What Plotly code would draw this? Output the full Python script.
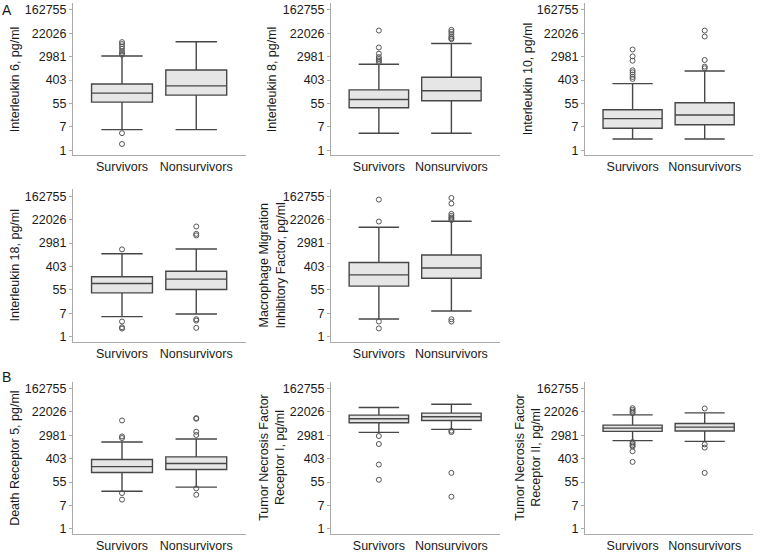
import math
import plotly.graph_objects as go

groups = ["Survivors", "Nonsurvivors"]
tick_vals = [1, 7.389, 54.598, 403.429, 2980.958, 22026.466, 162754.791]
tick_text = ["1", "7", "55", "403", "2981", "22026", "162755"]

titles = [
    "Interleukin 6, pg/ml",
    "Interleukin 8, pg/ml",
    "Interleukin 10, pg/ml",
    "Interleukin 18, pg/ml",
    "Macrophage Migration<br>Inhibitory Factor, pg/ml",
    "Death Receptor 5, pg/ml",
    "Tumor Necrosis Factor<br>Receptor I, pg/ml",
    "Tumor Necrosis Factor<br>Receptor II, pg/ml",
]

# Box statistics per panel: [Survivors, Nonsurvivors]
il6_q1 = [61, 111]
il6_med = [132, 245]
il6_q3 = [290, 963]
il6_lo = [5.8, 5.8]
il6_hi = [3165, 10720]
il6_out_s = [4.3, 1.7, 10400, 8780, 7180, 5880, 4675, 4060, 3530]
il6_out_n = []

il8_q1 = [37.7, 68.7]
il8_med = [77, 161]
il8_q3 = [174, 513]
il8_lo = [4.26, 4.26]
il8_hi = [1556, 9230]
il8_out_s = [28000, 6568, 3866, 2893, 2440, 2121, 1845]
il8_out_n = [29700, 25000, 20500, 16800, 14600, 13360]

il10_q1 = [6.5, 8.85]
il10_med = [14.9, 20.3]
il10_q3 = [31.8, 58]
il10_lo = [2.6, 2.6]
il10_hi = [299, 880]
il10_out_s = [5540, 3070, 2120, 934, 788, 645, 528, 446]
il10_out_n = [28000, 16800, 2250, 1275, 1108]

il18_q1 = [42, 56]
il18_med = [94, 136]
il18_q3 = [166, 268]
il18_lo = [5.5, 6.9]
il18_hi = [1200, 1790]
il18_out_s = [1737, 3.6, 2.2, 1.97]
il18_out_n = [12300, 6570, 5720, 4.4, 3.9, 2.1]

mif_q1 = [74.4, 147]
mif_med = [196, 354]
mif_q3 = [561, 1075]
mif_lo = [4.5, 8.85]
mif_hi = [11600, 19300]
mif_out_s = [123000, 18800, 3.6, 2.0]
mif_out_n = [141700, 87700, 36300, 30600, 26400, 23600, 21200, 4.4, 3.6]

dr5_q1 = [124, 161]
dr5_med = [206, 268]
dr5_q3 = [376, 473]
dr5_lo = [24.8, 35.5]
dr5_hi = [1686, 2190]
dr5_out_s = [10700, 2725, 2370, 21.3, 12.2]
dr5_out_n = [13100, 12300, 4060, 3070, 31.8, 18.5]

tnfr1_q1 = [8780, 10700]
tnfr1_med = [12300, 14600]
tnfr1_q3 = [16800, 19930]
tnfr1_lo = [3866, 4960]
tnfr1_hi = [32200, 43000]
tnfr1_out_s = [2810, 1422, 245, 66.7]
tnfr1_out_n = [4450, 3940, 120, 15.6]

tnfr2_q1 = [4190, 4320]
tnfr2_med = [5540, 6060]
tnfr2_q3 = [7180, 8270]
tnfr2_lo = [1900, 1790]
tnfr2_hi = [17300, 20500]
tnfr2_out_s = [30600, 26400, 22900, 19930, 1686, 1466, 1275, 1141, 765, 308]
tnfr2_out_n = [29700, 1380, 1043, 120]

panels = [
    (il6_q1, il6_med, il6_q3, il6_lo, il6_hi, il6_out_s, il6_out_n),
    (il8_q1, il8_med, il8_q3, il8_lo, il8_hi, il8_out_s, il8_out_n),
    (il10_q1, il10_med, il10_q3, il10_lo, il10_hi, il10_out_s, il10_out_n),
    (il18_q1, il18_med, il18_q3, il18_lo, il18_hi, il18_out_s, il18_out_n),
    (mif_q1, mif_med, mif_q3, mif_lo, mif_hi, mif_out_s, mif_out_n),
    (dr5_q1, dr5_med, dr5_q3, dr5_lo, dr5_hi, dr5_out_s, dr5_out_n),
    (tnfr1_q1, tnfr1_med, tnfr1_q3, tnfr1_lo, tnfr1_hi, tnfr1_out_s, tnfr1_out_n),
    (tnfr2_q1, tnfr2_med, tnfr2_q3, tnfr2_lo, tnfr2_hi, tnfr2_out_s, tnfr2_out_n),
]

# ---- layout geometry (pixels) ----
W, H = 760, 559
cols_px = [(73, 246), (331, 500), (585, 753)]
rows_px = [(3, 156), (190, 343), (383, 536)]
title_x_px = [15, 272, 528]
cells = [(0, 0), (0, 1), (0, 2), (1, 0), (1, 1), (2, 0), (2, 1), (2, 2)]

FONT = "Arial, Liberation Sans, sans-serif"
TXT = "#1a1a1a"
AX = "#aaaaaa"
yr = [math.log10(math.exp(-0.45)), math.log10(math.exp(12.6))]

fig = go.Figure()
layout = dict(
    width=W, height=H,
    margin=dict(l=0, r=0, t=0, b=0),
    paper_bgcolor="white", plot_bgcolor="white",
    showlegend=False,
    font=dict(family=FONT, size=12.5, color=TXT),
)
annotations = []

for i, ((r, c), data) in enumerate(zip(cells, panels)):
    q1, med, q3, lo, hi, out_s, out_n = data
    n = i + 1
    xa = "x" if n == 1 else f"x{n}"
    ya = "y" if n == 1 else f"y{n}"
    fig.add_trace(go.Box(
        x=groups, q1=q1, median=med, q3=q3, lowerfence=lo, upperfence=hi,
        width=0.82, whiskerwidth=0.68, boxpoints=False,
        fillcolor="#e6e6e6", line=dict(color="#474747", width=1.4),
        xaxis=xa, yaxis=ya, hoverinfo="skip",
    ))
    ox = [groups[0]] * len(out_s) + [groups[1]] * len(out_n)
    oy = list(out_s) + list(out_n)
    fig.add_trace(go.Scatter(
        x=ox, y=oy, mode="markers",
        marker=dict(symbol="circle-open", size=5, color="#555555", line=dict(width=1)),
        xaxis=xa, yaxis=ya, hoverinfo="skip",
    ))
    x0, x1 = cols_px[c]
    y0, y1 = rows_px[r]
    xkey = "xaxis" if n == 1 else f"xaxis{n}"
    ykey = "yaxis" if n == 1 else f"yaxis{n}"
    layout[xkey] = dict(
        domain=[x0 / W, x1 / W], anchor=ya, type="category",
        categoryorder="array", categoryarray=groups,
        range=[-0.66, 1.67], showline=True, linecolor=AX, linewidth=1,
        ticks="", showgrid=False, zeroline=False,
        tickfont=dict(size=12.5, color=TXT, family=FONT), fixedrange=True,
    )
    layout[ykey] = dict(
        domain=[1 - y1 / H, 1 - y0 / H], anchor=xa, type="log",
        range=yr, tickvals=tick_vals, ticktext=tick_text,
        showline=True, linecolor=AX, linewidth=1,
        ticks="outside", ticklen=3, tickcolor=AX,
        showgrid=False, zeroline=False,
        tickfont=dict(size=12.5, color=TXT, family=FONT), fixedrange=True,
    )
    annotations.append(dict(
        text=titles[i], textangle=-90, showarrow=False,
        xref="paper", yref="paper",
        x=title_x_px[c] / W, y=1 - (y0 + y1) / 2 / H,
        xanchor="center", yanchor="middle",
        font=dict(size=12.5, color=TXT, family=FONT),
    ))

annotations.append(dict(text="A", showarrow=False, xref="paper", yref="paper",
                        x=7 / W, y=1.0, xanchor="center", yanchor="top",
                        font=dict(size=14, color=TXT, family=FONT)))
annotations.append(dict(text="B", showarrow=False, xref="paper", yref="paper",
                        x=7 / W, y=1 - 368 / H, xanchor="center", yanchor="top",
                        font=dict(size=14, color=TXT, family=FONT)))
layout["annotations"] = annotations
fig.update_layout(**layout)
fig.write_html(
    "out.html",
    config={"displayModeBar": False},
    post_script="document.body.style.margin='0';document.body.style.overflow='hidden';",
)
